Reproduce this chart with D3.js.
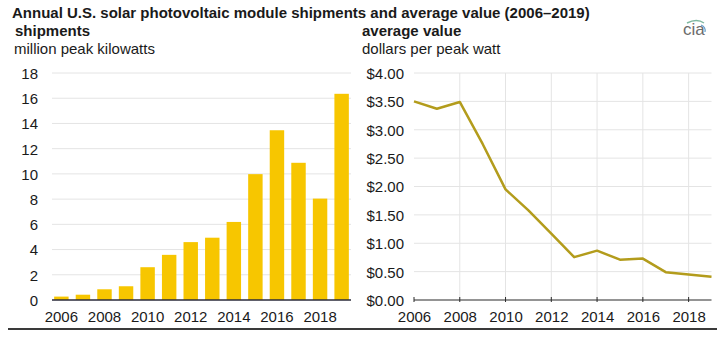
<!DOCTYPE html>
<html>
<head>
<meta charset="utf-8">
<script src="https://cdn.jsdelivr.net/npm/d3@7"></script>
<style>
  body { margin: 0; background: #fff; }
  text { font-family: "Liberation Sans", Arial, sans-serif; fill: #1a1a1a; }
</style>
</head>
<body>
<div id="chart"></div>
<script>
// years shown on both panels
var years = [2006, 2007, 2008, 2009, 2010, 2011, 2012, 2013, 2014, 2015, 2016, 2017, 2018, 2019];

// shipments, million peak kilowatts
var shipments = [0.27, 0.42, 0.85, 1.09, 2.6, 3.58, 4.59, 4.94, 6.19, 9.98, 13.46, 10.88, 8.04, 16.35];

// average value, dollars per peak watt
var avgValue = [3.50, 3.37, 3.49, 2.75, 1.95, 1.58, 1.17, 0.755, 0.87, 0.71, 0.73, 0.49, 0.45, 0.41];

var shipTicks = [0, 2, 4, 6, 8, 10, 12, 14, 16, 18];
var valueTicks = [0, 0.5, 1, 1.5, 2, 2.5, 3, 3.5, 4];
var yearTicks = [2006, 2008, 2010, 2012, 2014, 2016, 2018];

var svgWidth = 724;
var svgHeight = 337;

var svg = d3.select("#chart")
  .append("svg")
  .attr("width", svgWidth)
  .attr("height", svgHeight);

// headings
svg.append("text")
  .attr("x", 12).attr("y", 18)
  .attr("font-size", 15).attr("font-weight", "bold")
  .text("Annual U.S. solar photovoltaic module shipments and average value (2006\u20132019)");

svg.append("text").attr("x", 15).attr("y", 36)
  .attr("font-size", 15).attr("font-weight", "bold").text("shipments");
svg.append("text").attr("x", 14).attr("y", 54)
  .attr("font-size", 15).text("million peak kilowatts");

svg.append("text").attr("x", 362).attr("y", 36)
  .attr("font-size", 15).attr("font-weight", "bold").text("average value");
svg.append("text").attr("x", 362).attr("y", 54)
  .attr("font-size", 15).text("dollars per peak watt");

// eia logo
var logo = svg.append("g").attr("transform", "translate(683, 35)");
logo.append("path")
  .attr("d", "M4,-12 Q14,-17 21,-12")
  .attr("fill", "none").attr("stroke", "#7fb8a0").attr("stroke-width", 1.5);
logo.append("path")
  .attr("d", "M18,-10 Q23,-8 22,-3")
  .attr("fill", "none").attr("stroke", "#6a9fc8").attr("stroke-width", 1.2);
logo.append("text")
  .attr("x", 0).attr("y", 0)
  .attr("font-family", "Liberation Serif, serif")
  .attr("font-size", 17)
  .style("fill", "#6b6b6b")
  .text("cia");

// ---- left panel: bars ----
var xBand = d3.scaleBand()
  .domain(years)
  .range([52, 351])
  .paddingInner(0.33)
  .paddingOuter(0.1);

var yShip = d3.scaleLinear().domain([0, 18]).range([300, 73]);

var left = svg.append("g");

left.append("g").selectAll("line")
  .data(shipTicks.filter(d => d > 0))
  .enter()
  .append("line")
  .attr("x1", 52).attr("x2", 351)
  .attr("y1", d => yShip(d)).attr("y2", d => yShip(d))
  .attr("stroke", "#e4e4e4").attr("stroke-width", 1);

left.append("g").selectAll("rect")
  .data(years)
  .enter()
  .append("rect")
  .attr("x", d => xBand(d))
  .attr("width", xBand.bandwidth())
  .attr("y", (d, i) => yShip(shipments[i]))
  .attr("height", (d, i) => yShip(0) - yShip(shipments[i]))
  .attr("fill", "#f7c600");

var leftAxis = d3.axisLeft(yShip).tickValues(shipTicks).tickSize(0).tickPadding(0);
left.append("g")
  .attr("transform", "translate(38, 0)")
  .call(leftAxis)
  .call(g => g.select(".domain").remove())
  .selectAll("text")
  .attr("font-size", 15)
  .attr("dy", "0.36em");

left.append("line")
  .attr("x1", 52).attr("x2", 351)
  .attr("y1", 300).attr("y2", 300)
  .attr("stroke", "#2b2b3a").attr("stroke-width", 1.5);

var bottomBand = d3.axisBottom(xBand).tickValues(yearTicks).tickSize(0).tickPadding(0);
left.append("g")
  .attr("transform", "translate(0, 300)")
  .call(bottomBand)
  .call(g => g.select(".domain").remove())
  .selectAll("text")
  .attr("font-size", 15)
  .attr("dy", "0")
  .attr("y", 22);

// ---- right panel: line ----
var xYear = d3.scaleLinear().domain([2006, 2019]).range([414, 711.5]);
var yValue = d3.scaleLinear().domain([0, 4]).range([300, 73]);

var right = svg.append("g");

right.append("g").selectAll("line")
  .data(valueTicks.filter(d => d > 0))
  .enter()
  .append("line")
  .attr("x1", 414).attr("x2", 711.5)
  .attr("y1", d => yValue(d)).attr("y2", d => yValue(d))
  .attr("stroke", "#e4e4e4").attr("stroke-width", 1);

right.append("g").selectAll("line")
  .data(yearTicks.filter(d => d > 2006))
  .enter()
  .append("line")
  .attr("x1", d => xYear(d)).attr("x2", d => xYear(d))
  .attr("y1", 73).attr("y2", 300)
  .attr("stroke", "#e4e4e4").attr("stroke-width", 1);

var rightAxis = d3.axisLeft(yValue).tickValues(valueTicks).tickSize(0).tickPadding(0)
  .tickFormat(d3.format("$.2f"));
right.append("g")
  .attr("transform", "translate(404, 0)")
  .call(rightAxis)
  .call(g => g.select(".domain").remove())
  .selectAll("text")
  .attr("font-size", 15)
  .attr("dy", "0.36em");

var bottomYear = d3.axisBottom(xYear).tickValues(yearTicks).tickSize(0).tickPadding(0)
  .tickFormat(d3.format("d"));
right.append("g")
  .attr("transform", "translate(0, 300)")
  .call(bottomYear)
  .call(g => g.select(".domain").remove())
  .selectAll("text")
  .attr("font-size", 15)
  .attr("dy", "0")
  .attr("y", 22);

// axis line with small year ticks
right.append("line")
  .attr("x1", 414).attr("x2", 711.5)
  .attr("y1", 300).attr("y2", 300)
  .attr("stroke", "#2b2b2b").attr("stroke-width", 1.2);
right.append("g").selectAll("line")
  .data(yearTicks)
  .enter()
  .append("line")
  .attr("x1", d => xYear(d)).attr("x2", d => xYear(d))
  .attr("y1", 297).attr("y2", 302)
  .attr("stroke", "#2b2b2b").attr("stroke-width", 1);

var line = d3.line()
  .x((d, i) => xYear(years[i]))
  .y(d => yValue(d));

right.append("path")
  .datum(avgValue)
  .attr("d", line)
  .attr("fill", "none")
  .attr("stroke", "#b39c1c")
  .attr("stroke-width", 2.5)
  .attr("stroke-linejoin", "round");

// bottom rule
svg.append("line")
  .attr("x1", 8).attr("x2", 717)
  .attr("y1", 329).attr("y2", 329)
  .attr("stroke", "#3a3a3a").attr("stroke-width", 2);
</script>
</body>
</html>
